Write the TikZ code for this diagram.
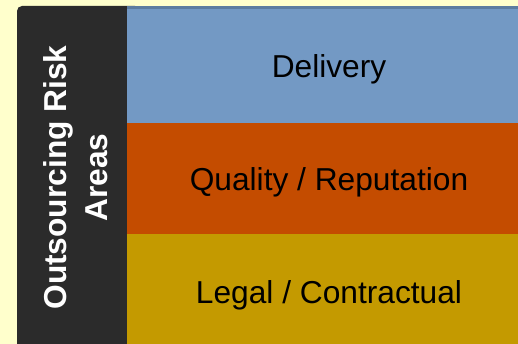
\documentclass[tikz,border=0pt]{standalone}
\usepackage{fontspec}
\setmainfont{Liberation Sans}
\definecolor{paper}{RGB}{255,255,204}
\definecolor{barcol}{RGB}{43,43,43}
\definecolor{delcol}{RGB}{115,153,196}
\definecolor{delrim}{RGB}{92,124,160}
\definecolor{qualcol}{RGB}{196,76,0}
\definecolor{legcol}{RGB}{196,154,0}
\tikzset{
  band/.style={rectangle, inner sep=0pt, anchor=north west, minimum width=400pt},
  bandtext/.style={anchor=base, font=\fontsize{31.7}{38}\selectfont, text=black}
}
\begin{document}
\begin{tikzpicture}[x=1pt,y=-1pt]
\fill[paper] (0,0) rectangle (518,344);
\useasboundingbox (0,0) rectangle (518,344);
% dark side bar, only the top left corner shows rounded
\fill[barcol, rounded corners=5pt] (17,6) rectangle (140,360);
% the three risk bands
\node[band, fill=delcol, minimum height=117pt] (delivery) at (127,6) {};
\node[band, fill=qualcol, minimum height=111pt] (quality) at (127,123) {};
\node[band, fill=legcol, minimum height=120pt] (legal) at (127,234) {};
\draw[delrim, line width=3pt] ([yshift=-1.5pt]delivery.north west) -- ([yshift=-1.5pt]delivery.north east);
\node[bandtext] (deltext) at (329,78) {Delivery};
\node[bandtext] (qualtext) at (329,191) {Quality / Reputation};
\node[bandtext] (legtext) at (329,303) {Legal / Contractual};
\node[rotate=90, align=center, text=white, font=\bfseries\fontsize{31.7}{41}\selectfont] (title) at (76,177.5) {Outsourcing Risk\\Areas};
\end{tikzpicture}
\end{document}
